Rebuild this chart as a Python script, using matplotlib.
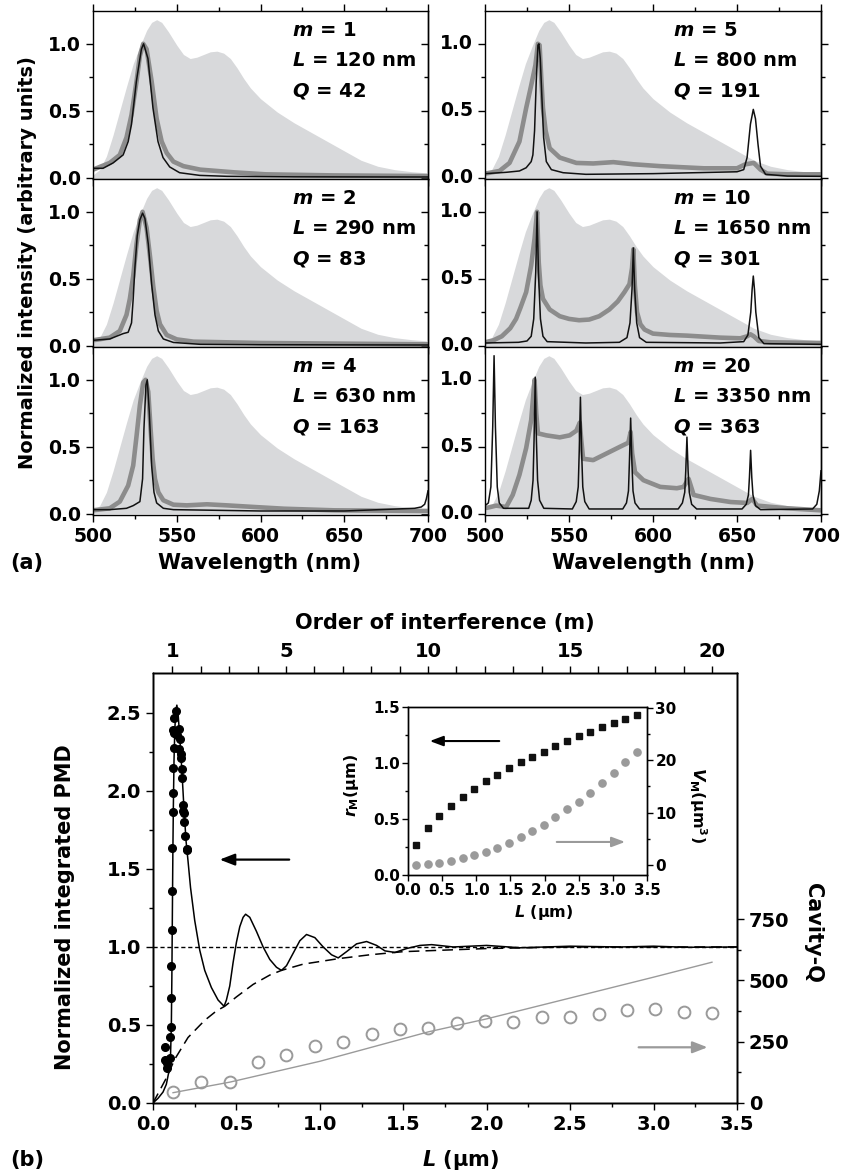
import matplotlib
matplotlib.use('Agg')
import matplotlib.pyplot as plt
from matplotlib.ticker import MultipleLocator, FixedLocator, FormatStrFormatter

plt.rcParams['font.family'] = 'DejaVu Sans'
plt.rcParams['font.weight'] = 'bold'
plt.rcParams['mathtext.fontset'] = 'custom'
plt.rcParams['mathtext.it'] = 'DejaVu Sans:italic:bold'
plt.rcParams['mathtext.rm'] = 'DejaVu Sans:bold'
plt.rcParams['mathtext.bf'] = 'DejaVu Sans:bold'
plt.rcParams['axes.linewidth'] = 1.0

# ---------------- panel (a): spectra ----------------
# bare emission (light gray fill), same in all panels
lam_em = [500, 504, 508, 512, 516, 520, 524, 528, 532, 535, 538, 541, 545, 550, 554, 558, 562,
          566, 570, 574, 578, 582, 586, 590, 594, 600, 605, 610, 620, 630, 640, 650, 660,
          670, 680, 690, 700]
I_em = [0.02, 0.06, 0.16, 0.32, 0.5, 0.68, 0.85, 0.98, 1.1, 1.16, 1.18, 1.16, 1.09, 0.99, 0.92,
        0.89, 0.9, 0.92, 0.94, 0.945, 0.93, 0.89, 0.82, 0.74, 0.67, 0.59, 0.54, 0.49, 0.41,
        0.34, 0.27, 0.2, 0.13, 0.085, 0.06, 0.045, 0.035]

# m = 1
lam_k1 = [500, 506, 512, 518, 521, 523, 525.9, 528.9, 530.2, 532.8, 535.8, 538.8, 541.8, 545.8,
          551.7, 563.7, 580, 620, 700]
I_k1 = [0.07, 0.07, 0.11, 0.17, 0.27, 0.4, 0.72, 0.96, 1.0, 0.89, 0.52, 0.27, 0.15, 0.08,
        0.037, 0.017, 0.01, 0.006, 0.005]
lam_g1 = [500, 510, 516, 520, 523, 526, 528, 530, 532, 535, 538, 541, 544, 548, 554, 564, 574,
          584, 603, 643, 700]
I_g1 = [0.06, 0.11, 0.17, 0.3, 0.47, 0.72, 0.91, 1.0, 0.96, 0.72, 0.44, 0.27, 0.185, 0.12,
        0.086, 0.06, 0.05, 0.04, 0.025, 0.017, 0.012]

# m = 2
lam_k2 = [500, 510, 518, 521, 523, 524, 525, 526.4, 528, 529.6, 531, 533, 535, 537, 539, 542,
          548, 564, 600, 700]
I_k2 = [0.04, 0.05, 0.09, 0.1, 0.17, 0.35, 0.58, 0.82, 0.94, 0.99, 0.95, 0.76, 0.46, 0.23,
        0.11, 0.05, 0.024, 0.01, 0.007, 0.005]
lam_g2 = [500, 510, 516, 520, 522, 524, 526, 528, 529.6, 532, 534, 536, 538, 540, 544, 550,
          560, 600, 700]
I_g2 = [0.04, 0.06, 0.11, 0.23, 0.35, 0.52, 0.76, 0.94, 1.0, 0.88, 0.67, 0.44, 0.26, 0.16,
        0.08, 0.047, 0.03, 0.02, 0.01]

# m = 4
lam_k4 = [500, 510, 520, 524, 528, 529.6, 530.4, 531.6, 532.4, 533.6, 535, 536.4, 538, 542,
          548, 600, 650, 692, 696, 698, 699, 700]
I_k4 = [0.03, 0.03, 0.04, 0.06, 0.09, 0.26, 0.63, 0.96, 1.0, 0.76, 0.36, 0.16, 0.08, 0.04,
        0.03, 0.02, 0.02, 0.04, 0.05, 0.07, 0.11, 0.17]
lam_g4 = [500, 510, 516, 521, 524, 526, 528, 530, 531.4, 533, 534.4, 535.6, 537, 539, 542, 548,
          556, 568, 580, 596, 614, 644, 700]
I_g4 = [0.025, 0.04, 0.09, 0.21, 0.36, 0.58, 0.81, 0.98, 1.0, 0.91, 0.63, 0.41, 0.26, 0.16,
        0.1, 0.067, 0.062, 0.07, 0.062, 0.05, 0.037, 0.025, 0.02]

# m = 5
lam_k5 = [500, 512.6, 520.5, 524.5, 527.5, 528.5, 529.5, 530.5, 531.5, 532.1, 532.9, 533.9,
          534.9, 536.5, 539.5, 546.5, 560, 600, 650, 654, 656, 658, 659.7, 661, 662.5, 664,
          667, 680, 700]
I_k5 = [0.03, 0.04, 0.05, 0.074, 0.12, 0.17, 0.35, 0.72, 0.99, 1.0, 0.89, 0.59, 0.3, 0.12,
        0.06, 0.037, 0.025, 0.03, 0.044, 0.06, 0.15, 0.4, 0.51, 0.44, 0.25, 0.086, 0.025,
        0.012, 0.01]
lam_g5 = [500, 508.6, 514.6, 520.5, 524.5, 527.5, 530, 531.5, 532.5, 533.5, 534.5, 536.1,
          538.5, 544.5, 554.4, 564.4, 576.4, 588.3, 604.3, 630.2, 650, 655, 660, 664, 668,
          680, 700]
I_g5 = [0.03, 0.05, 0.11, 0.27, 0.52, 0.69, 0.84, 1.0, 0.99, 0.74, 0.52, 0.35, 0.22, 0.15,
        0.11, 0.106, 0.116, 0.1, 0.086, 0.07, 0.07, 0.1, 0.11, 0.06, 0.03, 0.025, 0.025]

# m = 10
lam_k10 = [500, 520, 525, 527.5, 529, 530.2, 531.0, 531.8, 533.0, 534.5, 537, 560, 580, 584.5,
           586.3, 587.5, 588.3, 589.1, 590.3, 592, 596, 640, 654, 656.5, 658.2, 659.0, 659.7,
           660.4, 661.2, 663, 666, 700]
I_k10 = [0.02, 0.025, 0.035, 0.07, 0.2, 0.55, 1.0, 0.55, 0.2, 0.07, 0.03, 0.02, 0.025, 0.06,
         0.17, 0.42, 0.73, 0.42, 0.17, 0.06, 0.025, 0.02, 0.03, 0.08, 0.25, 0.42, 0.52, 0.42,
         0.25, 0.06, 0.015, 0.01]
lam_g10 = [500, 505, 510, 515, 518.5, 521, 524.5, 527.5, 529.5, 531, 532, 533, 534.5, 538.5,
           544.5, 550, 556, 562, 568, 574, 579, 583, 586, 587.5, 588.3, 589.2, 590.5, 592.5,
           595, 600, 610, 620, 640, 652, 656, 658, 660, 663, 670, 700]
I_g10 = [0.025, 0.04, 0.07, 0.13, 0.2, 0.28, 0.4, 0.6, 0.8, 1.0, 0.62, 0.45, 0.35, 0.27, 0.22,
         0.2, 0.19, 0.195, 0.22, 0.27, 0.33, 0.4, 0.46, 0.58, 0.72, 0.45, 0.25, 0.16, 0.12,
         0.09, 0.08, 0.075, 0.06, 0.055, 0.07, 0.085, 0.07, 0.035, 0.025, 0.02]

# m = 20
lam_k20 = [500, 502, 503.5, 504.6, 505.4, 506.2, 507.3, 508.5, 511,
           526, 527.5, 528.6, 529.2, 529.9, 530.6, 531.3, 532.5, 535,
           552, 554.3, 555.5, 556.1, 556.8, 557.5, 558.2, 559.4, 562,
           582, 584.2, 585.4, 586.0, 586.7, 587.4, 588.1, 589.3, 592,
           615, 617.5, 618.9, 619.5, 620.2, 620.9, 621.6, 623, 626,
           653, 655.5, 656.8, 657.4, 658.1, 658.8, 659.5, 661, 664,
           695, 697.5, 699, 700]
I_k20 = [0.06, 0.08, 0.2, 0.65, 1.18, 0.65, 0.2, 0.08, 0.04,
         0.04, 0.1, 0.25, 0.55, 1.02, 0.55, 0.25, 0.1, 0.04,
         0.035, 0.09, 0.2, 0.47, 0.87, 0.47, 0.2, 0.09, 0.035,
         0.035, 0.08, 0.17, 0.4, 0.714, 0.4, 0.17, 0.08, 0.035,
         0.035, 0.08, 0.16, 0.32, 0.572, 0.32, 0.16, 0.07, 0.035,
         0.035, 0.07, 0.14, 0.27, 0.473, 0.27, 0.14, 0.06, 0.03,
         0.035, 0.07, 0.17, 0.32]
lam_g20 = [500, 506.6, 512.6, 516.5, 520.5, 524.5, 527.5, 529.5, 530.5, 531.5, 536.5, 544.5,
           550.4, 554.4, 556.4, 557.3, 558.4, 564.4, 572.4, 580.4, 585.3, 586.7, 587.6, 589.3,
           594.3, 604.3, 614.2, 618.2, 621.2, 624.2, 634.2, 646.2, 656.1, 659.1, 662, 680, 700]
I_g20 = [0.04, 0.06, 0.05, 0.14, 0.29, 0.49, 0.7, 1.0, 0.75, 0.6, 0.585, 0.57, 0.585, 0.62,
         0.68, 0.55, 0.41, 0.4, 0.45, 0.5, 0.53, 0.61, 0.45, 0.31, 0.25, 0.2, 0.19, 0.2, 0.26,
         0.14, 0.11, 0.087, 0.08, 0.11, 0.06, 0.04, 0.025]

panel_m = ['1', '2', '4', '5', '10', '20']
panel_L = ['120', '290', '630', '800', '1650', '3350']
panel_Q = ['42', '83', '163', '191', '301', '363']
black_lam = [lam_k1, lam_k2, lam_k4, lam_k5, lam_k10, lam_k20]
black_I = [I_k1, I_k2, I_k4, I_k5, I_k10, I_k20]
gray_lam = [lam_g1, lam_g2, lam_g4, lam_g5, lam_g10, lam_g20]
gray_I = [I_g1, I_g2, I_g4, I_g5, I_g10, I_g20]
int_ticks = [0.0, 0.5, 1.0]

# ---------------- panel (b) ----------------
# calculated PMD (solid), envelope (dashed)
L_pmd = [0.0, 0.03, 0.06, 0.08, 0.095, 0.105, 0.11, 0.113, 0.116, 0.119, 0.122, 0.126, 0.131,
         0.137, 0.143, 0.15, 0.16, 0.172, 0.185, 0.198, 0.21, 0.225, 0.25, 0.28, 0.31, 0.35,
         0.39, 0.426, 0.44, 0.46, 0.48, 0.5, 0.52, 0.54, 0.555, 0.58, 0.62, 0.66, 0.7, 0.74,
         0.77, 0.8, 0.84, 0.88, 0.92, 0.97, 1.02, 1.07, 1.11, 1.16, 1.22, 1.28, 1.34, 1.39,
         1.45, 1.52, 1.6, 1.67, 1.8, 2.0, 2.2, 2.5, 2.8, 3.0, 3.2, 3.5]
pmd_calc = [0.0, 0.03, 0.07, 0.12, 0.2, 0.3, 0.5, 0.8, 1.2, 1.6, 1.9, 2.2, 2.4, 2.52, 2.55,
            2.5, 2.35, 2.15, 1.9, 1.68, 1.55, 1.38, 1.17, 0.98, 0.85, 0.74, 0.66, 0.62, 0.66,
            0.75, 0.9, 1.03, 1.13, 1.19, 1.21, 1.19, 1.1, 1.0, 0.92, 0.87, 0.85, 0.88, 0.96,
            1.04, 1.08, 1.06, 1.0, 0.95, 0.93, 0.97, 1.02, 1.035, 1.01, 0.975, 0.965, 0.99,
            1.01, 1.015, 1.0, 1.01, 0.995, 1.005, 1.0, 1.005, 0.998, 1.0]
L_env = [0.0, 0.04, 0.08, 0.13, 0.21, 0.31, 0.38, 0.43, 0.5, 0.6, 0.7, 0.77, 0.9, 1.11, 1.3,
         1.5, 2.0, 2.5, 3.5]
pmd_env = [0.0, 0.08, 0.16, 0.28, 0.42, 0.53, 0.59, 0.62, 0.68, 0.76, 0.82, 0.85, 0.89, 0.925,
           0.95, 0.97, 0.99, 1.0, 1.0]
# measured PMD (black dots)
L_meas = [0.07, 0.072, 0.084, 0.084, 0.104, 0.104, 0.108, 0.11, 0.11, 0.112, 0.116, 0.116,
          0.12, 0.12, 0.12, 0.124, 0.124, 0.118, 0.126, 0.138, 0.143, 0.156, 0.157, 0.162,
          0.168, 0.17, 0.174, 0.176, 0.179, 0.182, 0.188, 0.186, 0.194, 0.202, 0.205]
pmd_meas = [0.357, 0.277, 0.255, 0.223, 0.287, 0.426, 0.489, 0.674, 0.879, 1.106, 1.357,
            1.632, 1.866, 1.99, 2.149, 2.277, 2.37, 2.39, 2.47, 2.51, 2.36, 2.40, 2.27, 2.33,
            2.21, 2.24, 2.14, 2.08, 1.87, 1.91, 1.86, 1.80, 1.71, 1.62, 1.63]
# cavity Q
L_cav = [0.12, 0.29, 0.46, 0.63, 0.80, 0.97, 1.14, 1.31, 1.48, 1.65, 1.82, 1.99, 2.16, 2.33,
         2.50, 2.67, 2.84, 3.01, 3.18, 3.35]
Q_meas = [44, 87, 87, 166, 196, 232, 250, 281, 300, 305, 327, 334, 332, 349, 349, 364, 379,
          383, 372, 366]
L_qcalc = [0.12, 0.46, 1.0, 1.65, 2.0, 2.5, 3.0, 3.35]
Q_calc = [42, 85, 170, 290, 343, 428, 513, 574]
# inset
r_M = [0.267, 0.417, 0.528, 0.618, 0.696, 0.771, 0.837, 0.897, 0.951, 1.005, 1.053, 1.101,
       1.152, 1.194, 1.239, 1.281, 1.323, 1.359, 1.395, 1.431]
V_M = [0.06, 0.2, 0.4, 0.7, 1.3, 1.9, 2.5, 3.3, 4.2, 5.3, 6.4, 7.6, 9.1, 10.6, 12.1, 13.8,
       15.6, 17.6, 19.6, 21.6]

W, H = 845, 1173
fig = plt.figure(figsize=(W / 100, H / 100), dpi=100)


def px_axes(x0, top, x1, bottom):
    return fig.add_axes([x0 / W, 1 - bottom / H, (x1 - x0) / W, (bottom - top) / H])


FILL = '#d8d9db'
GRAY = '#8c8c8c'
LGRAY = '#9a9a9a'
TICK = 13.5

cols = [(93, 428), (485, 821)]
rows = [(11, 179), (179, 347), (347, 515)]
for i in range(6):
    c, r = divmod(i, 3)
    ax = px_axes(cols[c][0], rows[r][0], cols[c][1], rows[r][1])
    ax.fill_between(lam_em, I_em, 0, color=FILL, lw=0)
    ax.plot(gray_lam[i], gray_I[i], color=GRAY, lw=3.3, solid_capstyle='round')
    ax.plot(black_lam[i], black_I[i], color='#111111', lw=1.1)
    ax.set_xlim(500, 700)
    ax.set_ylim(-0.01, 1.245)
    ax.xaxis.set_major_locator(MultipleLocator(50))
    ax.xaxis.set_minor_locator(MultipleLocator(25))
    ax.yaxis.set_major_locator(FixedLocator(int_ticks))
    ax.yaxis.set_minor_locator(FixedLocator([0.25, 0.75]))
    ax.yaxis.set_major_formatter(FormatStrFormatter('%.1f'))
    ax.tick_params(which='both', direction='out', top=(r == 0), labelleft=(c == 0),
                   labelsize=TICK, width=1.0)
    ax.tick_params(which='major', length=5)
    ax.tick_params(which='minor', length=3)
    if r < 2:
        ax.tick_params(labelbottom=False)
    if c == 1:
        # tick labels of the right column, written next to the left spine
        for v in int_ticks:
            ax.annotate('%.1f' % v, xy=(0, v), xycoords=ax.get_yaxis_transform(),
                        xytext=(-8.5, 0), textcoords='offset points', ha='right',
                        va='center', fontsize=TICK, annotation_clip=False)
    # right-hand ticks: inward on the left column, outward on the right one
    sec = ax.secondary_yaxis('right')
    sec.yaxis.set_major_locator(FixedLocator(int_ticks))
    sec.yaxis.set_minor_locator(FixedLocator([0.25, 0.75]))
    sec.tick_params(which='both', direction='in' if c == 0 else 'out', labelright=False,
                    width=1.0)
    sec.tick_params(which='major', length=5)
    sec.tick_params(which='minor', length=3)
    tx = 0.594 if c == 0 else 0.56
    ax.text(tx, 0.851, '$m$ = ' + panel_m[i], transform=ax.transAxes, fontsize=14)
    ax.text(tx, 0.673, '$L$ = ' + panel_L[i] + ' nm', transform=ax.transAxes, fontsize=14)
    ax.text(tx, 0.494, '$Q$ = ' + panel_Q[i], transform=ax.transAxes, fontsize=14)

fig.text(28 / W, 1 - 263 / H, 'Normalized intensity (arbitrary units)', rotation=90,
         ha='center', va='center', fontsize=14)
fig.text(260 / W, 1 - 563 / H, 'Wavelength (nm)', ha='center', va='center', fontsize=15)
fig.text(653 / W, 1 - 563 / H, 'Wavelength (nm)', ha='center', va='center', fontsize=15)
fig.text(27 / W, 1 - 563 / H, '(a)', ha='center', va='center', fontsize=15)

# panel (b)
axb = px_axes(153, 673, 737, 1103)
axb.plot(L_pmd, pmd_calc, color='k', lw=1.1)
axb.plot(L_env, pmd_env, color='k', lw=1.1, dashes=(7, 4))
axb.plot([0, 3.5], [1.0, 1.0], color='k', lw=1.0, dashes=(3, 2))
axb.plot(L_meas, pmd_meas, 'o', color='k', ms=5.5)
axb.set_xlim(0, 3.5)
axb.set_ylim(0, 2.756)
axb.xaxis.set_major_locator(MultipleLocator(0.5))
axb.xaxis.set_minor_locator(MultipleLocator(0.25))
axb.xaxis.set_major_formatter(FormatStrFormatter('%.1f'))
axb.yaxis.set_major_locator(MultipleLocator(0.5))
axb.yaxis.set_minor_locator(FixedLocator([0.25, 0.75, 1.25, 1.75, 2.25]))
axb.yaxis.set_major_formatter(FormatStrFormatter('%.1f'))
axb.tick_params(which='both', direction='out', labelsize=14, width=1.0)
axb.tick_params(which='major', length=5)
axb.tick_params(which='minor', length=3)
axb.annotate('', xy=(0.383, 1.56), xytext=(0.833, 1.56),
             arrowprops=dict(arrowstyle='-|>,head_length=0.9,head_width=0.35', color='k', lw=1.6))
axb.annotate('', xy=(3.34, 0.357), xytext=(2.894, 0.357),
             arrowprops=dict(arrowstyle='-|>,head_length=0.9,head_width=0.35', color=LGRAY, lw=1.6))

axq = axb.twinx()
axq.plot(L_qcalc, Q_calc, color=LGRAY, lw=1.0)
axq.plot(L_cav, Q_meas, 'o', mfc='none', mec=LGRAY, mew=1.4, ms=8.5)
axq.set_ylim(0, 1753)
axq.yaxis.set_major_locator(FixedLocator([0, 250, 500, 750]))
axq.yaxis.set_minor_locator(FixedLocator([125, 375, 625]))
axq.tick_params(which='both', direction='out', labelsize=14, width=1.0)
axq.tick_params(which='major', length=5)
axq.tick_params(which='minor', length=3)

axm = axb.twiny()
axm.set_xlim(0.32, 20.88)
axm.xaxis.set_major_locator(FixedLocator([1, 5, 10, 15, 20]))
axm.xaxis.set_minor_locator(FixedLocator(list(range(1, 21))))
axm.tick_params(which='both', direction='out', labelsize=14, width=1.0)
axm.tick_params(which='major', length=5)
axm.tick_params(which='minor', length=5)

fig.text(445 / W, 1 - 623 / H, 'Order of interference (m)', ha='center', va='center', fontsize=15)
fig.text(65 / W, 1 - 907 / H, 'Normalized integrated PMD', rotation=90, ha='center',
         va='center', fontsize=15)
fig.text(813 / W, 1 - 933 / H, 'Cavity-Q', rotation=270, ha='center', va='center', fontsize=15)
fig.text(460 / W, 1 - 1160 / H, '$L$ (µm)', ha='center', va='center', fontsize=15)
fig.text(27 / W, 1 - 1160 / H, '(b)', ha='center', va='center', fontsize=15)

# inset
axi = px_axes(408, 707, 647, 875)
axi.plot(L_cav, r_M, 's', color='#111111', ms=4.8)
axi.set_xlim(0, 3.5)
axi.set_ylim(0, 1.5)
axi.xaxis.set_major_locator(MultipleLocator(0.5))
axi.xaxis.set_major_formatter(FormatStrFormatter('%.1f'))
axi.yaxis.set_major_locator(MultipleLocator(0.5))
axi.yaxis.set_minor_locator(MultipleLocator(0.25))
axi.yaxis.set_major_formatter(FormatStrFormatter('%.1f'))
axi.tick_params(which='both', direction='out', labelsize=11, width=1.0, pad=2)
axi.tick_params(which='major', length=4)
axi.tick_params(which='minor', length=2.5)
axi.annotate('', xy=(0.278, 1.196), xytext=(1.377, 1.196),
             arrowprops=dict(arrowstyle='-|>,head_length=0.8,head_width=0.3', color='k', lw=1.5))
axi.annotate('', xy=(3.22, 0.295), xytext=(2.138, 0.295),
             arrowprops=dict(arrowstyle='-|>,head_length=0.8,head_width=0.3', color=LGRAY, lw=1.5))
axv = axi.twinx()
axv.plot(L_cav, V_M, 'o', color=LGRAY, ms=5.2)
axv.set_ylim(-1.9, 30.1)
axv.yaxis.set_major_locator(FixedLocator([0, 10, 20, 30]))
axv.yaxis.set_minor_locator(FixedLocator([5, 15, 25]))
axv.tick_params(which='both', direction='out', labelsize=11, width=1.0, pad=2)
axv.tick_params(which='major', length=4)
axv.tick_params(which='minor', length=2.5)

fig.text(544 / W, 1 - 913 / H, '$L$ (µm)', ha='center', va='center', fontsize=11.5)
fig.text(352 / W, 1 - 785 / H, r'$r_\mathrm{M}$(µm)', rotation=90, ha='center', va='center',
         fontsize=11.5)
fig.text(698 / W, 1 - 805 / H, r'$V_\mathrm{M}$(µm$^3$)', rotation=270, ha='center',
         va='center', fontsize=11.5)

fig.savefig('out.png', dpi=100)
